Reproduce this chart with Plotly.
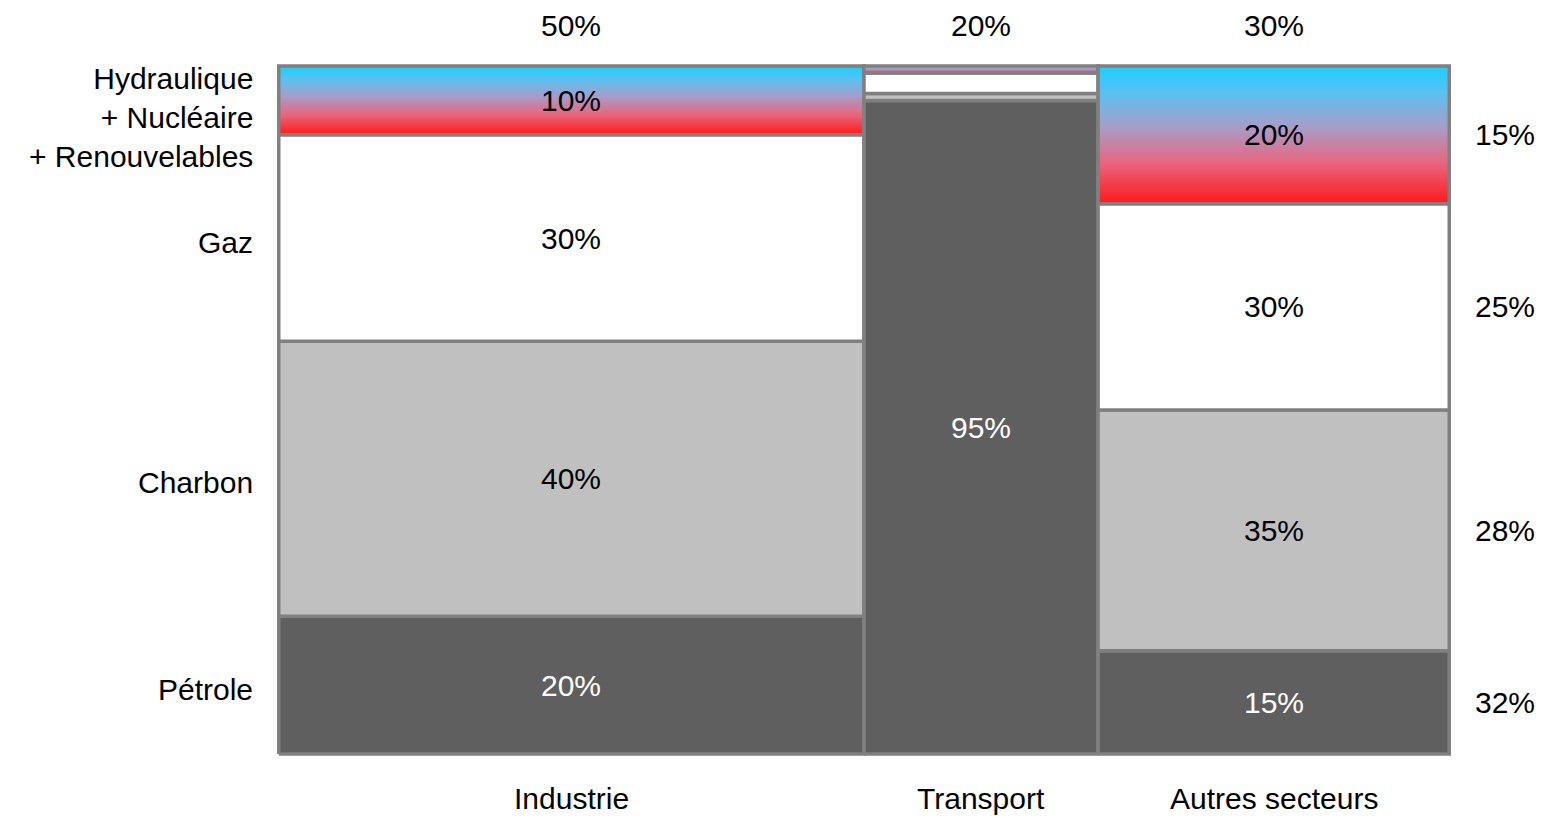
import plotly.graph_objects as go

# Sectors (column widths = share of total energy use, %)
sectors = ["Industrie", "Transport", "Autres secteurs"]
sector_share = [50, 20, 30]
sector_share_labels = ["50%", "20%", "30%"]

# Energy sources, stacked bottom -> top
sources = ["Pétrole", "Charbon", "Gaz", "Hydraulique<br>+ Nucléaire<br>+ Renouvelables"]

# Share of each source inside each sector (%)
industrie = [20, 40, 30, 10]
transport = [95, 1, 3, 1]
autres = [15, 35, 30, 20]
mix = [industrie, transport, autres]

# Which segments carry a value label
show_label = [
    [True, True, True, True],
    [True, False, False, False],
    [True, True, True, True],
]

# Overall share per source
total_share_labels = ["32%", "28%", "25%", "15%"]

fill_colors = ["#5f5f5f", "#c0c0c0", "#ffffff", None]
text_colors = ["white", "black", "black", "black"]
border = "#808080"
FONT = "Liberation Sans, Arial, sans-serif"
FS = 30

fig = go.Figure()
annotations = []

x0 = 0
for si, (name, width) in enumerate(zip(sectors, sector_share)):
    x1 = x0 + width
    y0 = 0
    for k, val in enumerate(mix[si]):
        y1 = y0 + val
        xs = [x0, x1, x1, x0, x0]
        ys = [y0, y0, y1, y1, y0]
        trace = dict(
            x=xs, y=ys, mode="lines", fill="toself",
            line=dict(color=border, width=3.5),
            hoverinfo="skip", showlegend=False,
        )
        if fill_colors[k] is None:
            trace["fillgradient"] = dict(
                type="vertical",
                colorscale=[[0, "#ff1a1a"], [0.3, "#e8667e"], [0.55, "#aa9bc6"],
                            [0.8, "#5cc0f0"], [1, "#1ccfff"]],
            )
        else:
            trace["fillcolor"] = fill_colors[k]
        fig.add_trace(go.Scatter(**trace))
        if show_label[si][k]:
            annotations.append(dict(
                x=(x0 + x1) / 2, y=(y0 + y1) / 2, xref="x", yref="y",
                text=f"{val}%", showarrow=False,
                font=dict(family=FONT, size=FS, color=text_colors[k]),
            ))
        y0 = y1
    # sector name below, width share above
    annotations.append(dict(
        x=(x0 + x1) / 2, y=0, xref="x", yref="paper", yanchor="middle",
        yshift=-42, text=name, showarrow=False,
        font=dict(family=FONT, size=FS, color="black"),
    ))
    annotations.append(dict(
        x=(x0 + x1) / 2, y=1, xref="x", yref="paper", yanchor="middle",
        yshift=39, text=sector_share_labels[si], showarrow=False,
        font=dict(family=FONT, size=FS, color="black"),
    ))
    x0 = x1

# Source names on the left, aligned with the first column's segments
y0 = 0
for k, val in enumerate(industrie):
    y1 = y0 + val
    annotations.append(dict(
        x=0, y=(y0 + y1) / 2, xref="x", yref="y",
        xanchor="right", xshift=-24, yshift=(-17 if k == 3 else -4),
        text=sources[k], showarrow=False, align="right",
        font=dict(family=FONT, size=FS, color="black"),
    ))
    y0 = y1

# Overall shares on the right, aligned with the last column's segments
y0 = 0
for k, val in enumerate(autres):
    y1 = y0 + val
    annotations.append(dict(
        x=100, y=(y0 + y1) / 2, xref="x", yref="y",
        xanchor="left", xshift=24,
        text=total_share_labels[k], showarrow=False,
        font=dict(family=FONT, size=FS, color="black"),
    ))
    y0 = y1

fig.update_layout(
    width=1549, height=818,
    margin=dict(l=277, r=98, t=64, b=62),
    paper_bgcolor="white", plot_bgcolor="white",
    xaxis=dict(range=[-0.15, 100.15], visible=False, fixedrange=True),
    yaxis=dict(range=[-0.3, 100.3], visible=False, fixedrange=True),
    annotations=annotations,
    showlegend=False,
)

fig.write_html("out.html")
